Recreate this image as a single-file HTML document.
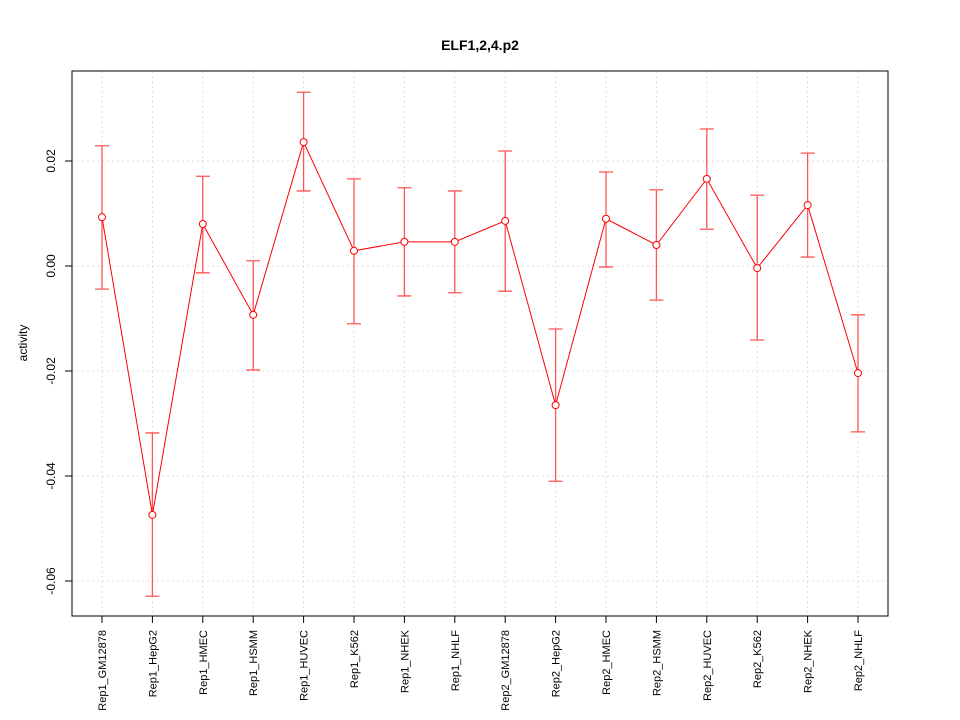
<!DOCTYPE html>
<html><head><meta charset="utf-8"><style>
body{margin:0;background:#fff}
svg{display:block;font-family:"Liberation Sans",sans-serif}
</style></head><body>
<svg id="chart" width="960" height="720">
<text x="480" y="50" text-anchor="middle" font-size="14" font-weight="bold">ELF1,2,4.p2</text>
<text transform="translate(27,343) rotate(-90)" text-anchor="middle" font-size="12">activity</text>
<g id="grid"></g><g id="axes"></g><g id="marks"></g>
<rect x="72" y="71" width="816" height="545" fill="none" stroke="#000"/>
</svg>
<script>
const categories=["Rep1_GM12878","Rep1_HepG2","Rep1_HMEC","Rep1_HSMM","Rep1_HUVEC","Rep1_K562","Rep1_NHEK","Rep1_NHLF","Rep2_GM12878","Rep2_HepG2","Rep2_HMEC","Rep2_HSMM","Rep2_HUVEC","Rep2_K562","Rep2_NHEK","Rep2_NHLF"];
const values=[0.0093,-0.0474,0.0080,-0.0093,0.0236,0.0029,0.0046,0.0046,0.0086,-0.0265,0.0090,0.0040,0.0166,-0.0004,0.0116,-0.0204];
const upper=[0.0229,-0.0318,0.0171,0.0010,0.0331,0.0166,0.0149,0.0143,0.0219,-0.0120,0.0179,0.0145,0.0261,0.0135,0.0215,-0.0093];
const lower=[-0.0044,-0.0629,-0.0013,-0.0198,0.0143,-0.0110,-0.0057,-0.0051,-0.0048,-0.0410,-0.0002,-0.0065,0.0070,-0.0141,0.0017,-0.0316];
const yTicks=[0.02,0.00,-0.02,-0.04,-0.06];
const yTickLabels=["0.02","0.00","-0.02","-0.04","-0.06"];
const NS="http://www.w3.org/2000/svg";
const xs=i=>102+i*(756/(categories.length-1));
const ys=v=>266-v*5250;
function mk(p,t,a){const e=document.createElementNS(NS,t);for(const k in a)e.setAttribute(k,a[k]);p.appendChild(e);return e;}
const grid=document.getElementById('grid'),axes=document.getElementById('axes'),marks=document.getElementById('marks');
yTicks.forEach((t,i)=>{const y=ys(t);
 let g=mk(grid,'line',{x1:72,x2:888,y1:y,y2:y,stroke:'#ddd','stroke-dasharray':'2,3'});
 
 let tk=mk(axes,'line',{x1:65,x2:72,y1:y,y2:y,stroke:'#000'});
 
 let tx=mk(axes,'text',{transform:`translate(55,${y}) rotate(-90)`,'text-anchor':'middle','font-size':12});
 tx.textContent=yTickLabels[i];
 
});
categories.forEach((c,i)=>{const x=xs(i);
 let g=mk(grid,'line',{x1:x,x2:x,y1:71,y2:616,stroke:'#ddd','stroke-dasharray':'2,3'});
 
 let tk=mk(axes,'line',{x1:x,x2:x,y1:616,y2:623,stroke:'#000'});
 
 let tx=mk(axes,'text',{transform:`translate(${x+4},630) rotate(-90)`,'text-anchor':'end','font-size':11});
 tx.textContent=c;
 
});
values.forEach((v,i)=>{const x=xs(i),yu=ys(upper[i]),yl=ys(lower[i]);
 let e=mk(marks,'path',{d:`M${x},${yu}V${yl}M${x-7},${yu}H${x+7}M${x-7},${yl}H${x+7}`,stroke:'#f55',fill:'none','stroke-width':1.3});
 
});
let pts=values.map((v,i)=>xs(i)+','+ys(v)).join(' ');
let pl=mk(marks,'polyline',{points:pts,fill:'none',stroke:'#f00','stroke-width':1});

values.forEach((v,i)=>{
 let p=mk(marks,'circle',{cx:xs(i),cy:ys(v),r:3.5,fill:'#fff',stroke:'#f00'});
 
});
</script>
</body></html>
